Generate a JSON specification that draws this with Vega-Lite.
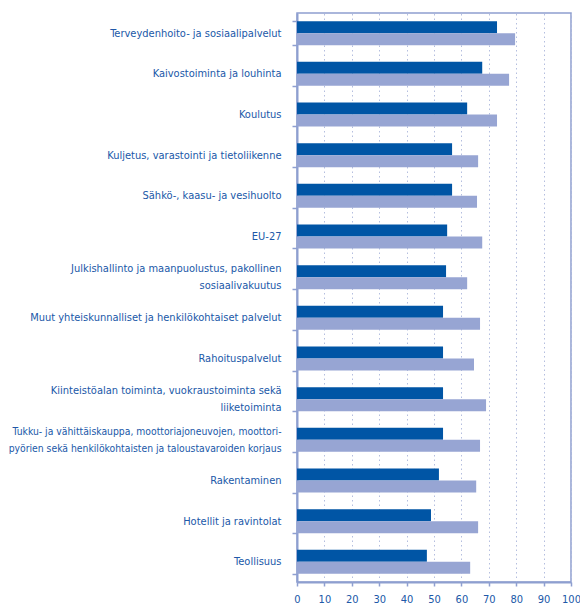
{
  "$schema": "https://vega.github.io/schema/vega-lite/v6.json",
  "width": 274,
  "height": 569,
  "autosize": {"type": "none"},
  "padding": {"left": 297, "top": 13, "right": 9, "bottom": 24},
  "config": {
    "font": "DejaVu Sans Condensed",
    "view": {"stroke": "#8e9fd0", "strokeWidth": 1.5}
  },
  "data": {
    "values": [
      {"ala": "Terveydenhoito- ja sosiaalipalvelut", "sarja": "1", "arvo": 73.0},
      {"ala": "Terveydenhoito- ja sosiaalipalvelut", "sarja": "2", "arvo": 79.6},
      {"ala": "Kaivostoiminta ja louhinta", "sarja": "1", "arvo": 67.6},
      {"ala": "Kaivostoiminta ja louhinta", "sarja": "2", "arvo": 77.4},
      {"ala": "Koulutus", "sarja": "1", "arvo": 62.1},
      {"ala": "Koulutus", "sarja": "2", "arvo": 73.0},
      {"ala": "Kuljetus, varastointi ja tietoliikenne", "sarja": "1", "arvo": 56.6},
      {"ala": "Kuljetus, varastointi ja tietoliikenne", "sarja": "2", "arvo": 66.1},
      {"ala": "Sähkö-, kaasu- ja vesihuolto", "sarja": "1", "arvo": 56.6},
      {"ala": "Sähkö-, kaasu- ja vesihuolto", "sarja": "2", "arvo": 65.7},
      {"ala": "EU-27", "sarja": "1", "arvo": 54.8},
      {"ala": "EU-27", "sarja": "2", "arvo": 67.6},
      {"ala": "Julkishallinto ja maanpuolustus, pakollinen|sosiaalivakuutus", "sarja": "1", "arvo": 54.4},
      {"ala": "Julkishallinto ja maanpuolustus, pakollinen|sosiaalivakuutus", "sarja": "2", "arvo": 62.1},
      {"ala": "Muut yhteiskunnalliset ja henkilökohtaiset palvelut", "sarja": "1", "arvo": 53.3},
      {"ala": "Muut yhteiskunnalliset ja henkilökohtaiset palvelut", "sarja": "2", "arvo": 66.8},
      {"ala": "Rahoituspalvelut", "sarja": "1", "arvo": 53.3},
      {"ala": "Rahoituspalvelut", "sarja": "2", "arvo": 64.6},
      {"ala": "Kiinteistöalan toiminta, vuokraustoiminta sekä|liiketoiminta", "sarja": "1", "arvo": 53.3},
      {"ala": "Kiinteistöalan toiminta, vuokraustoiminta sekä|liiketoiminta", "sarja": "2", "arvo": 69.0},
      {"ala": "Tukku- ja vähittäiskauppa, moottoriajoneuvojen, moottori-|pyörien sekä henkilökohtaisten ja taloustavaroiden korjaus", "sarja": "1", "arvo": 53.3},
      {"ala": "Tukku- ja vähittäiskauppa, moottoriajoneuvojen, moottori-|pyörien sekä henkilökohtaisten ja taloustavaroiden korjaus", "sarja": "2", "arvo": 66.8},
      {"ala": "Rakentaminen", "sarja": "1", "arvo": 51.8},
      {"ala": "Rakentaminen", "sarja": "2", "arvo": 65.4},
      {"ala": "Hotellit ja ravintolat", "sarja": "1", "arvo": 48.9},
      {"ala": "Hotellit ja ravintolat", "sarja": "2", "arvo": 66.1},
      {"ala": "Teollisuus", "sarja": "1", "arvo": 47.4},
      {"ala": "Teollisuus", "sarja": "2", "arvo": 63.2}
    ]
  },
  "mark": {"type": "bar"},
  "encoding": {
    "y": {
      "field": "ala",
      "type": "nominal",
      "sort": null,
      "scale": {"paddingInner": 0.41, "paddingOuter": 0.2},
      "axis": {
        "title": null,
        "labelExpr": "split(datum.label, '|')",
        "labelColor": "#2058a8",
        "labelFontSize": {"condition": {"test": "indexof(datum.label, 'Tukku') === 0", "value": 10.3}, "value": 11},
        "labelOffset": {"condition": {"test": "indexof(datum.label, '|') >= 0", "value": -8.5}, "value": 0},
        "labelLineHeight": 17,
        "labelPadding": 11,
        "labelLimit": 296,
        "tickBand": "extent",
        "tickSize": 5,
        "tickColor": "#8e9fd0",
        "tickWidth": 1.5,
        "domainColor": "#8e9fd0",
        "domainWidth": 2,
        "grid": false
      }
    },
    "yOffset": {"field": "sarja", "type": "nominal", "sort": ["1", "2"]},
    "x": {
      "field": "arvo",
      "type": "quantitative",
      "scale": {"domain": [0, 100], "nice": false},
      "axis": {
        "title": null,
        "values": [0, 10, 20, 30, 40, 50, 60, 70, 80, 90, 100],
        "labelColor": "#2058a8",
        "labelFontSize": 11,
        "labelPadding": 7,
        "labelFlush": false,
        "tickSize": 4,
        "tickColor": "#8e9fd0",
        "tickWidth": 1.5,
        "domainColor": "#8e9fd0",
        "domainWidth": 2,
        "grid": true,
        "gridColor": "#b4bedf",
        "gridDash": [1.5, 3],
        "gridWidth": 1
      }
    },
    "color": {
      "field": "sarja",
      "type": "nominal",
      "scale": {"domain": ["1", "2"], "range": ["#0055a5", "#97a5d3"]},
      "legend": null
    }
  }
}
